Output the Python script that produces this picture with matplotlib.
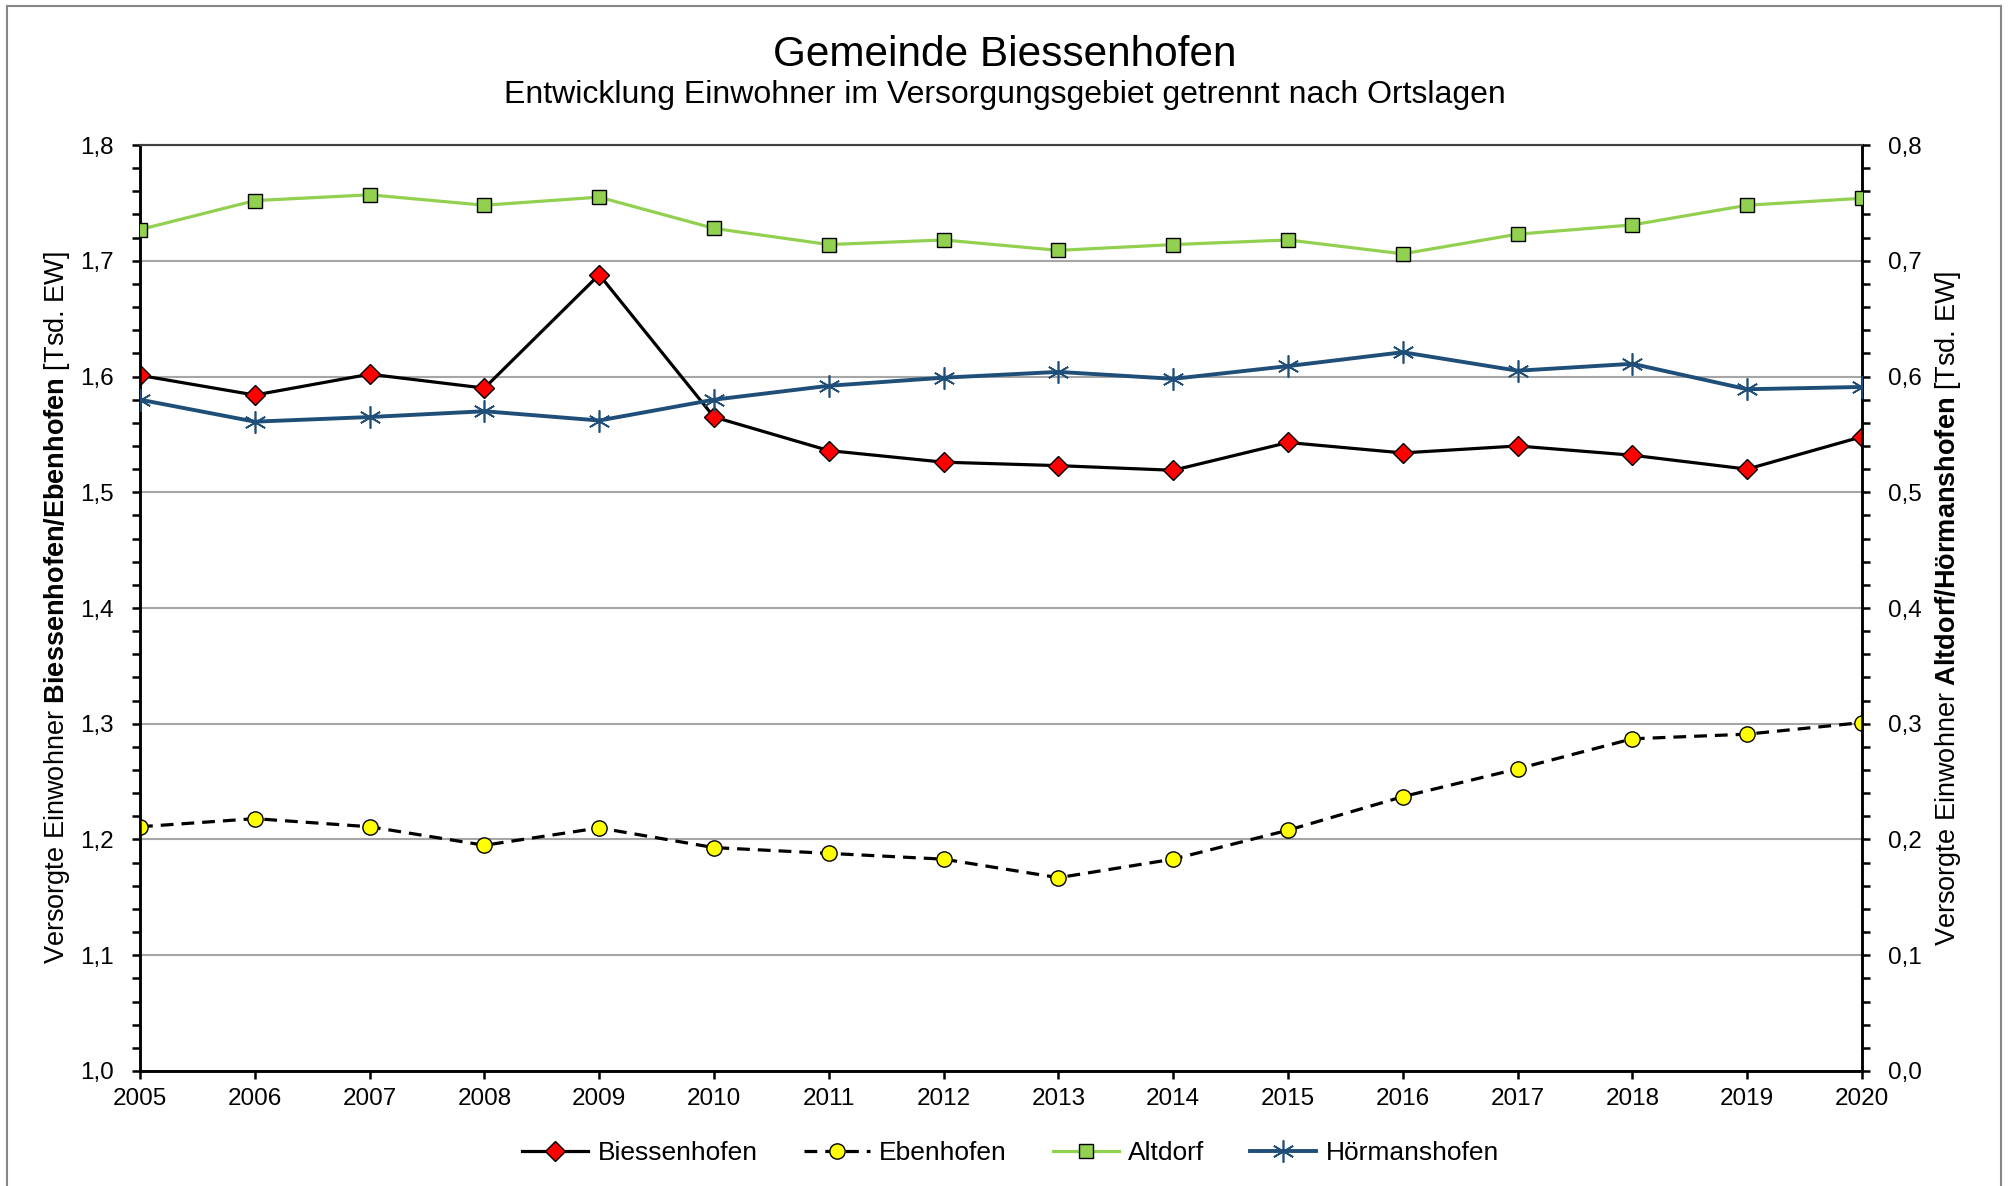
import matplotlib
matplotlib.use("Agg")
import matplotlib.pyplot as plt
from matplotlib.patches import Rectangle
from matplotlib.ticker import MultipleLocator, FuncFormatter

plt.rcParams["font.family"] = ["Liberation Sans", "DejaVu Sans"]
plt.rcParams["mathtext.fontset"] = "custom"
plt.rcParams["mathtext.rm"] = "Liberation Sans"
plt.rcParams["mathtext.bf"] = "Liberation Sans:bold"

years = list(range(2005, 2021))

# linke Achse (Tsd. EW)
biessenhofen = [1.601, 1.584, 1.602, 1.590, 1.688, 1.565, 1.536, 1.526,
                1.523, 1.519, 1.543, 1.534, 1.540, 1.532, 1.520, 1.548]
ebenhofen = [1.211, 1.218, 1.211, 1.195, 1.210, 1.193, 1.188, 1.183,
             1.167, 1.183, 1.208, 1.237, 1.261, 1.287, 1.291, 1.301]

# rechte Achse (Tsd. EW)
altdorf = [0.727, 0.752, 0.757, 0.748, 0.755, 0.728, 0.714, 0.718,
           0.709, 0.714, 0.718, 0.706, 0.723, 0.731, 0.748, 0.754]
hoermanshofen = [0.580, 0.561, 0.565, 0.570, 0.562, 0.580, 0.592, 0.599,
                 0.604, 0.598, 0.609, 0.621, 0.605, 0.611, 0.589, 0.591]


def comma(v, pos):
    return f"{v:.1f}".replace(".", ",")


fig = plt.figure(figsize=(20.09, 11.86), dpi=100)
ax = fig.add_axes([0.0697, 0.097, 0.8571, 0.7807])
ax2 = ax.twinx()

# Rahmen um das Diagramm
fig.patches.append(Rectangle((7 / 2009, -0.05), 1994 / 2009, 1.05 - 6 / 1186,
                             transform=fig.transFigure, fill=False,
                             edgecolor="#868686", linewidth=1.5))

ax.plot(years, biessenhofen, color="black", lw=2.3, marker="D", ms=10,
        mfc="red", mec="black", mew=1.0, label="Biessenhofen", zorder=3)
ax.plot(years, ebenhofen, color="black", lw=2.3, ls=(0, (4, 2.5)), marker="o",
        ms=11, mfc="#FFFF00", mec="black", mew=1.0, label="Ebenhofen", zorder=3)
ax2.plot(years, altdorf, color="#92D050", lw=2.3, marker="s", ms=10,
         mfc="#92D050", mec="black", mew=1.0, label="Altdorf", zorder=3)
ax2.plot(years, hoermanshofen, color="#1F4E79", lw=2.8, marker=(6, 2, 0),
         ms=16, mec="#1F4E79", mew=1.2, label="Hörmanshofen", zorder=3)

ax.set_xlim(2005, 2020)
ax.set_ylim(1.0, 1.8)
ax2.set_ylim(0.0, 0.8)
ax.set_xticks(years)
ax.set_xticklabels([str(y) for y in years])
for a in (ax, ax2):
    a.yaxis.set_major_locator(MultipleLocator(0.1))
    a.yaxis.set_minor_locator(MultipleLocator(0.02))
    a.yaxis.set_major_formatter(FuncFormatter(comma))
    a.tick_params(axis="y", which="both", direction="out", length=6, width=1.8,
                  labelsize=17.5, pad=13)
    for s in a.spines.values():
        s.set_linewidth(1.8)
    a.spines["top"].set_color("#404040")
    a.spines["top"].set_linewidth(1.5)
ax.tick_params(axis="x", direction="out", length=6, width=1.8, labelsize=17.5, pad=6)

ax.yaxis.grid(True, color="#A6A6A6", lw=1.5)
ax.set_axisbelow(True)

ax.set_ylabel(r"Versorgte Einwohner $\bf{Biessenhofen/Ebenhofen}$ [Tsd. EW]",
              fontsize=19.5, labelpad=6)
ax2.set_ylabel(r"Versorgte Einwohner $\bf{Altdorf/Hörmanshofen}$ [Tsd. EW]",
               fontsize=19.5, labelpad=8)

fig.text(0.5, 0.954, "Gemeinde Biessenhofen", ha="center", va="center", fontsize=30.5)
fig.text(0.5, 0.920, "Entwicklung Einwohner im Versorgungsgebiet getrennt nach Ortslagen",
         ha="center", va="center", fontsize=23)

h1, l1 = ax.get_legend_handles_labels()
h2, l2 = ax2.get_legend_handles_labels()
fig.legend(h1 + h2, l1 + l2, loc="center", bbox_to_anchor=(0.503, 0.028), ncol=4,
           frameon=False, fontsize=19, handlelength=2.5, columnspacing=1.75,
           handletextpad=0.35)

fig.savefig("out.png", dpi=100)
